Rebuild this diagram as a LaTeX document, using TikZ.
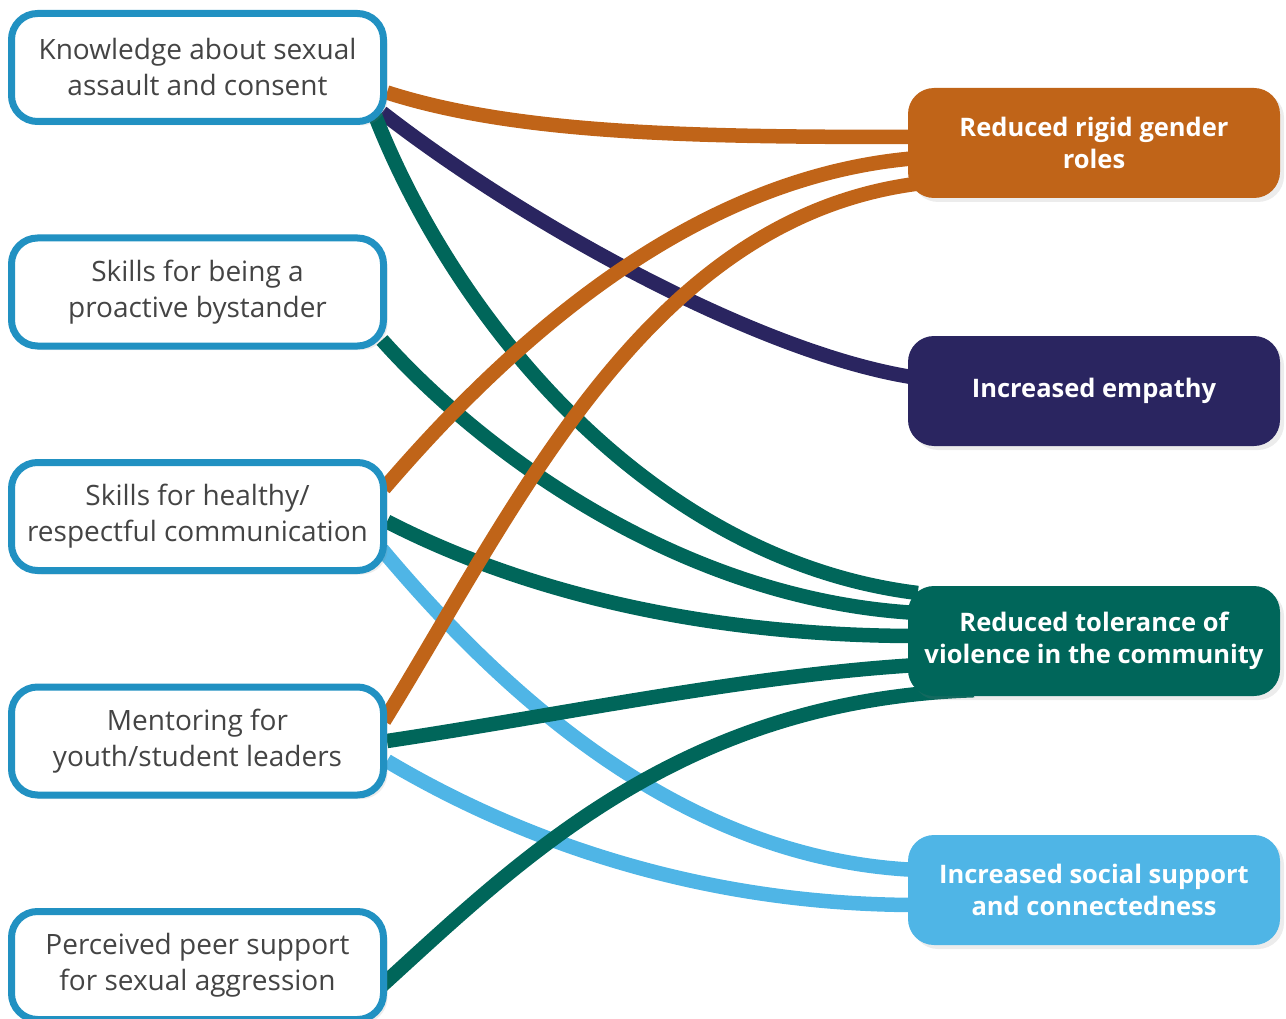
\documentclass[tikz,border=0pt]{standalone}
\usepackage{fontspec}
\setmainfont{Open Sans}
\usetikzlibrary{backgrounds,shadows}
\definecolor{frameblue}{HTML}{2191C2}
\definecolor{textgray}{HTML}{444444}
\definecolor{rigidorange}{HTML}{C06418}
\definecolor{empnavy}{HTML}{2A2560}
\definecolor{tolteal}{HTML}{00665A}
\definecolor{socblue}{HTML}{4FB5E6}
\begin{document}
\begin{tikzpicture}[x=1pt,y=-1pt,
  cause/.style={draw=frameblue,line width=7pt,rounded corners=26pt,fill=white,
    minimum width=372pt,minimum height=108pt,align=center,text=textgray,
    font=\fontsize{28}{36}\selectfont,
    drop shadow={opacity=0.15,shadow xshift=4pt,shadow yshift=-4pt}},
  outcome/.style={rounded corners=26pt,minimum width=372pt,minimum height=110pt,
    align=center,text=white,font=\bfseries\fontsize{25.5}{32}\selectfont,
    drop shadow={opacity=0.15,shadow xshift=4pt,shadow yshift=-4pt}},
  link/.style={line width=14.5pt}]
\useasboundingbox (0,0) rectangle (1286,1019);
\node[cause] (know) at (197.5,67.5) {Knowledge about sexual\\assault and consent};
\node[cause] (bys) at (197.5,292) {Skills for being a\\proactive bystander};
\node[cause] (heal) at (197.5,516.5) {Skills for healthy/\\respectful communication};
\node[cause] (ment) at (197.5,741) {Mentoring for\\youth/student leaders};
\node[cause] (perc) at (197.5,965.5) {Perceived peer support\\for sexual aggression};
\node[outcome,fill=rigidorange] (rigid) at (1094,143) {Reduced rigid gender\\roles};
\node[outcome,fill=empnavy] (emp) at (1094,391) {Increased empathy};
\node[outcome,fill=tolteal] (tol) at (1094,641) {Reduced tolerance of\\violence in the community};
\node[outcome,fill=socblue] (soc) at (1094,890) {Increased social support\\and connectedness};
\begin{scope}[on background layer]
\draw[link,rigidorange] ([yshift=-25pt]know.east) .. controls (520,135) and (700,137) .. ([xshift=10pt,yshift=6pt]rigid.west);
\draw[link,empnavy] ([xshift=-5pt,yshift=-45pt]know.east) .. controls (520,220) and (760,355) .. ([xshift=10pt,yshift=13pt]emp.west);
\draw[link,tolteal] ([xshift=-12pt,yshift=-48pt]know.east) .. controls (455,320) and (650,560) .. ([xshift=10pt,yshift=48pt]tol.west);
\draw[link,tolteal] ([xshift=-5pt,yshift=-48pt]bys.east) .. controls (480,450) and (680,600) .. ([xshift=10pt,yshift=28pt]tol.west);
\draw[link,rigidorange] ([xshift=-3pt,yshift=28pt]heal.east) .. controls (520,330) and (700,175) .. ([xshift=10pt,yshift=-15pt]rigid.west);
\draw[link,tolteal] ([yshift=-5pt]heal.east) .. controls (520,590) and (700,636) .. ([xshift=10pt,yshift=5pt]tol.west);
\draw[link,socblue] ([xshift=-5pt,yshift=-33pt]heal.east) .. controls (500,690) and (680,860) .. ([xshift=10pt,yshift=20pt]soc.west);
\draw[link,rigidorange] ([xshift=-3pt,yshift=20pt]ment.east) .. controls (520,500) and (650,215) .. ([xshift=15pt,yshift=-40pt]rigid.west);
\draw[link,tolteal] (ment.east) .. controls (560,715) and (750,675) .. ([xshift=10pt,yshift=-24pt]tol.west);
\draw[link,socblue] ([yshift=-20pt]ment.east) .. controls (520,840) and (700,905) .. ([xshift=10pt,yshift=-15pt]soc.west);
\draw[link,tolteal] ([xshift=-5pt,yshift=-20pt]perc.east) .. controls (520,860) and (680,700) .. ([xshift=-120pt,yshift=6pt]tol.south);
\end{scope}
\end{tikzpicture}
\end{document}
